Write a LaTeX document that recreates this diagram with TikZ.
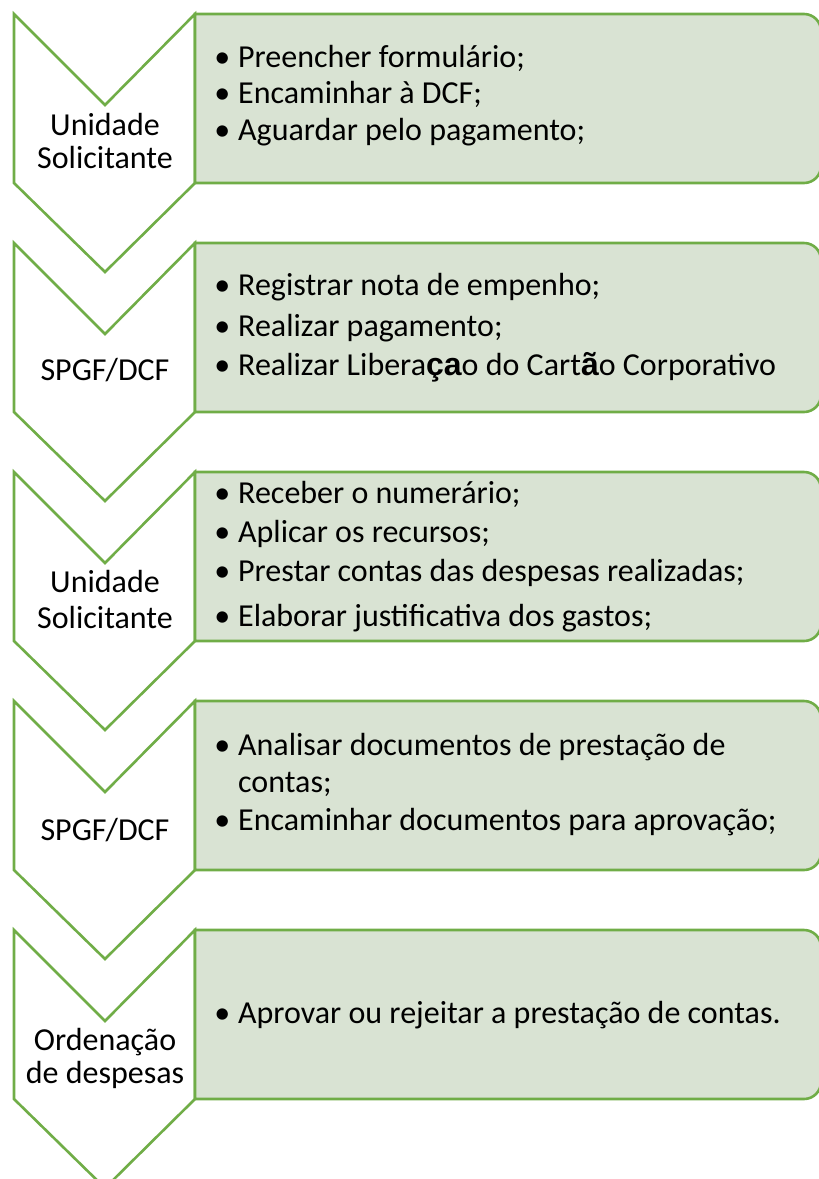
\documentclass[tikz,border=0pt]{standalone}
\usepackage{fontspec}
\setmainfont{Carlito}
\newfontfamily\arialfont{Liberation Sans}
\definecolor{chevgreen}{HTML}{70AD47}
\definecolor{boxfill}{HTML}{D9E3D3}
\begin{document}
\begin{tikzpicture}[x=1pt,y=-1pt,
  chevron/.style={draw=chevgreen,fill=white,line width=2.6pt,line join=miter},
  stepbox/.style={draw=chevgreen,fill=boxfill,line width=2.6pt},
  item/.style={anchor=base west,inner sep=0pt,font=\fontsize{32}{38}\selectfont},
  lbl/.style={anchor=base,inner sep=0pt,font=\fontsize{32}{38}\selectfont}]
\useasboundingbox (0,0) rectangle (819,1179);
\clip (0,0) rectangle (819,1179);
\newcommand{\bul}{\llap{\textbullet\hspace{8pt}}}
\foreach \t in {14,243,472,701,930}{
  \draw[chevron] (14,\t) -- (105,\t+91) -- (195,\t) -- (195,\t+169) -- (105,\t+258) -- (14,\t+169) -- cycle;
  \draw[stepbox] (195,\t) -- (804,\t) arc[start angle=-90,end angle=0,radius=17] -- (821,\t+152) arc[start angle=0,end angle=90,radius=17] -- (195,\t+169) -- cycle;
}
% box 1
\node[lbl] (l1a) at (105,135) {Unidade};
\node[lbl] (l1b) at (105,168) {Solicitante};
\node[item] (b1a) at (238,67) {\bul Preencher formulário;};
\node[item] (b1b) at (238,103) {\bul Encaminhar à DCF;};
\node[item] (b1c) at (238,140) {\bul Aguardar pelo pagamento;};
% box 2
\node[lbl] (l2a) at (105,380) {SPGF/DCF};
\node[item] (b2a) at (238,295) {\bul Registrar nota de empenho;};
\node[item] (b2b) at (238,336) {\bul Realizar pagamento;};
\node[item] (b2c) at (238,375) {\bul Realizar Libera{\arialfont\bfseries ça}o do Cart{\arialfont\bfseries ã}o Corporativo};
% box 3
\node[lbl] (l3a) at (105,592) {Unidade};
\node[lbl] (l3b) at (105,628) {Solicitante};
\node[item] (b3a) at (238,503) {\bul Receber o numerário;};
\node[item] (b3b) at (238,542) {\bul Aplicar os recursos;};
\node[item] (b3c) at (238,581) {\bul Prestar contas das despesas realizadas;};
\node[item] (b3d) at (238,626) {\bul Elaborar justificativa dos gastos;};
% box 4
\node[lbl] (l4a) at (105,840) {SPGF/DCF};
\node[item] (b4a) at (238,755) {\bul Analisar documentos de prestação de};
\node[item] (b4b) at (238,792) {contas;};
\node[item] (b4c) at (238,830) {\bul Encaminhar documentos para aprovação;};
% box 5
\node[lbl] (l5a) at (105,1050) {Ordenação};
\node[lbl] (l5b) at (105,1083) {de despesas};
\node[item] (b5a) at (238,1023) {\bul Aprovar ou rejeitar a prestação de contas.};
\end{tikzpicture}
\end{document}
